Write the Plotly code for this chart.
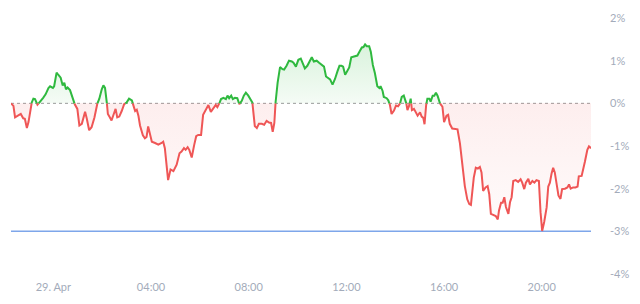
import plotly.graph_objects as go
from datetime import datetime, timedelta

# minutes relative to 29 Apr 00:00
minutes = [
    -104, -98, -94, -86, -80, -74, -70, -65, -61, -53, -49, -45, -39, -33, -25, -19, -12, -8, -1, 2,
    8, 12, 18, 23, 27, 31, 35, 41, 47, 53, 59, 64, 70, 74, 78, 82, 88, 94, 101, 108,
    113, 119, 123, 127, 131, 134, 139, 143, 147, 153, 157, 162, 168, 174, 180, 186, 193, 197, 201, 205,
    209, 213, 220, 225, 229, 233, 242, 250, 258, 266, 270, 274, 279, 282, 288, 295, 303, 310, 315, 321,
    325, 330, 334, 340, 346, 351, 356, 363, 368, 374, 381, 387, 393, 399, 403, 407, 412, 418, 424, 428,
    432, 437, 441, 446, 452, 457, 463, 468, 473, 479, 485, 489, 492, 495, 500, 505, 512, 518, 524, 530,
    535, 539, 543, 546, 551, 557, 563, 567, 573, 579, 586, 590, 596, 602, 608, 613, 618, 624, 631, 635,
    640, 647, 653, 659, 665, 670, 674, 680, 686, 692, 698, 703, 708, 712, 717, 722, 727, 732, 737, 743,
    747, 752, 758, 762, 766, 770, 776, 780, 785, 790, 796, 801, 804, 809, 812, 819, 823, 827, 831, 837,
    842, 847, 852, 856, 861, 866, 870, 874, 878, 881, 886, 891, 895, 901, 905, 909, 912, 916, 919, 924,
    927, 932, 936, 940, 944, 950, 956, 960, 966, 970, 974, 980, 987, 993, 999, 1005, 1011, 1017, 1022, 1026,
    1029, 1033, 1038, 1043, 1048, 1052, 1056, 1062, 1067, 1071, 1075, 1081, 1087, 1092, 1095, 1100, 1104, 1108, 1112, 1118,
    1122, 1126, 1130, 1136, 1142, 1148, 1152, 1157, 1161, 1167, 1171, 1177, 1182, 1187, 1193, 1197, 1201, 1206, 1212, 1216,
    1220, 1224, 1228, 1232, 1237, 1241, 1246, 1250, 1257, 1263, 1267, 1271, 1277, 1283, 1288, 1291, 1298, 1302, 1306, 1312,
    1316, 1321,
]

change = [
    0.00, -0.06, -0.33, -0.29, -0.25, -0.35, -0.36, -0.58, -0.44, 0.02, 0.11, 0.10, -0.03, 0.03, 0.13, 0.21, 0.36, 0.40, 0.36, 0.40,
    0.72, 0.67, 0.60, 0.42, 0.48, 0.33, 0.37, 0.31, 0.14, -0.03, -0.13, -0.52, -0.48, -0.33, -0.20, -0.35, -0.63, -0.56, -0.33, -0.01,
    0.11, 0.33, 0.42, 0.36, 0.06, -0.25, -0.33, -0.40, -0.29, -0.13, -0.33, -0.31, -0.18, -0.02, 0.02, 0.11, 0.07, -0.06, -0.18, -0.15,
    -0.29, -0.52, -0.75, -0.82, -0.79, -0.54, -0.90, -0.93, -0.97, -0.93, -0.90, -1.05, -1.51, -1.80, -1.55, -1.59, -1.44, -1.17, -1.13, -1.05,
    -1.09, -1.03, -1.09, -1.27, -0.98, -0.77, -0.74, -0.74, -0.27, -0.17, -0.04, -0.20, -0.13, -0.04, -0.09, -0.02, 0.10, 0.13, 0.10, 0.18,
    0.12, 0.18, 0.10, 0.13, 0.12, -0.02, 0.06, 0.18, 0.25, 0.18, 0.10, 0.02, -0.29, -0.53, -0.58, -0.48, -0.48, -0.50, -0.41, -0.45,
    -0.46, -0.67, -0.46, 0.02, 0.48, 0.85, 0.80, 0.79, 0.88, 1.00, 0.98, 0.95, 0.86, 1.02, 1.05, 0.95, 0.82, 0.88, 1.00, 1.08,
    0.98, 1.00, 0.95, 0.90, 0.86, 0.63, 0.60, 0.56, 0.44, 0.57, 0.75, 0.88, 0.88, 0.86, 0.67, 0.75, 0.84, 1.08, 1.09, 1.10,
    1.12, 1.21, 1.31, 1.32, 1.38, 1.34, 1.34, 1.21, 0.90, 0.71, 0.40, 0.36, 0.40, 0.29, 0.15, 0.12, 0.07, -0.04, -0.25, -0.17,
    -0.05, -0.07, 0.00, 0.15, 0.18, 0.07, -0.16, -0.06, 0.11, -0.16, -0.13, -0.24, -0.29, -0.21, -0.31, -0.34, -0.49, -0.04, 0.11, 0.11,
    0.04, 0.18, 0.18, 0.25, 0.18, 0.00, -0.08, -0.44, -0.29, -0.27, -0.48, -0.59, -0.61, -0.61, -0.94, -1.40, -1.94, -2.25, -2.36, -2.38,
    -2.01, -1.74, -1.51, -1.53, -1.49, -1.62, -2.05, -1.97, -1.94, -2.13, -2.59, -2.61, -2.64, -2.72, -2.51, -2.33, -2.33, -2.20, -2.43, -2.59,
    -2.32, -2.20, -1.82, -1.80, -1.84, -1.78, -1.86, -2.01, -1.86, -1.77, -1.90, -1.82, -1.86, -1.80, -1.82, -2.55, -2.99, -2.78, -2.44, -1.95,
    -1.86, -1.65, -1.51, -1.62, -1.93, -2.16, -2.24, -2.01, -2.00, -1.97, -1.90, -2.00, -1.97, -1.97, -1.95, -1.71, -1.70, -1.56, -1.37, -1.09,
    -1.01, -1.05,
]

low_level = -3.0
x_tick_hours = [0, 4, 8, 12, 16, 20]
x_tick_labels = ["29. Apr", "04:00", "08:00", "12:00", "16:00", "20:00"]
y_tick_values = [2, 1, 0, -1, -2, -3, -4]
y_tick_labels = ["2%", "1%", "0%", "-1%", "-2%", "-3%", "-4%"]

base = datetime(2024, 4, 29)

# insert zero crossings so the colour switches exactly at 0
xm, yv = [], []
for i, (m, v) in enumerate(zip(minutes, change)):
    if i > 0:
        m0, v0 = minutes[i - 1], change[i - 1]
        if v0 * v < 0:
            f = v0 / (v0 - v)
            xm.append(m0 + f * (m - m0))
            yv.append(0.0)
    xm.append(m)
    yv.append(v)

xt = [base + timedelta(minutes=m) for m in xm]
pos_line = [y if y >= 0 else None for y in yv]
neg_line = [y if y <= 0 else None for y in yv]
pos_fill = [max(y, 0) for y in yv]
neg_fill = [min(y, 0) for y in yv]

GREEN = "#2fb93f"
RED = "#ef5656"

fig = go.Figure()
fig.add_trace(go.Scatter(
    x=xt, y=pos_fill, mode="none", fill="tozeroy",
    fillgradient=dict(type="vertical", colorscale=[[0, "rgba(47,185,63,0.05)"], [1, "rgba(47,185,63,0.18)"]]),
    hoverinfo="skip"))
fig.add_trace(go.Scatter(
    x=xt, y=neg_fill, mode="none", fill="tozeroy",
    fillgradient=dict(type="vertical", colorscale=[[0, "rgba(239,86,86,0.02)"], [1, "rgba(239,86,86,0.10)"]]),
    hoverinfo="skip"))
fig.add_trace(go.Scatter(x=xt, y=neg_line, mode="lines", line=dict(color=RED, width=2), connectgaps=False,
                         hoverinfo="skip"))
fig.add_trace(go.Scatter(x=xt, y=pos_line, mode="lines", line=dict(color=GREEN, width=2), connectgaps=False,
                         hoverinfo="skip"))

fig.add_shape(type="line", xref="paper", x0=0, x1=1, yref="y", y0=0, y1=0,
              line=dict(color="#9a9a9a", width=1, dash="dot"), layer="below")
fig.add_shape(type="line", xref="paper", x0=0, x1=1, yref="y", y0=low_level, y1=low_level,
              line=dict(color="#7ea6ea", width=1.5), layer="below")

tick_font = dict(family="Lato, 'Open Sans', sans-serif", size=11, color="#a3abba")
fig.update_layout(
    width=640, height=304,
    margin=dict(l=11, r=49, t=15, b=28),
    paper_bgcolor="white", plot_bgcolor="white",
    showlegend=False,
    xaxis=dict(
        type="date",
        range=[base + timedelta(minutes=minutes[0]), base + timedelta(minutes=minutes[-1])],
        showgrid=False, zeroline=False, showline=False, ticks="",
        tickvals=[base + timedelta(hours=h) for h in x_tick_hours],
        ticktext=x_tick_labels, tickfont=tick_font,
        ticklabelstandoff=5,
    ),
    yaxis=dict(
        side="right", range=[-4, 2],
        showgrid=False, zeroline=False, showline=False, ticks="",
        tickvals=y_tick_values, ticktext=y_tick_labels, tickfont=tick_font,
        ticklabelstandoff=18,
    ),
)

fig.write_html("out.html")
